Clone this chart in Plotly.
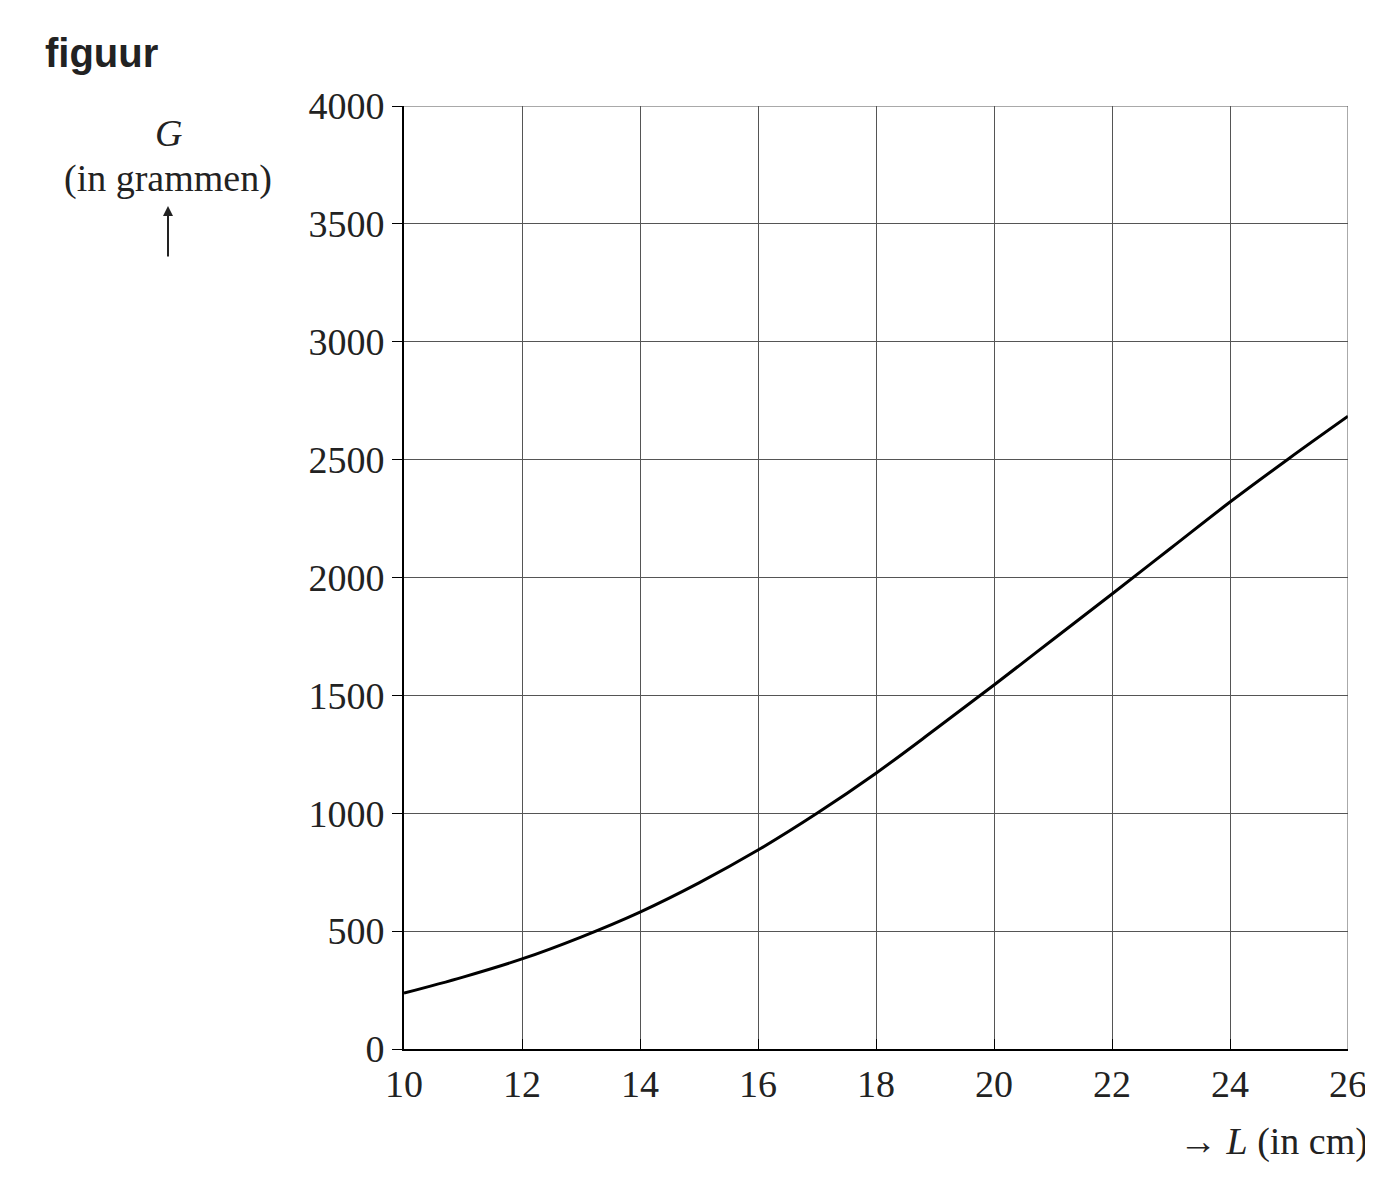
import plotly.graph_objects as go

L = [10, 11, 12, 13, 14, 15, 16, 17, 18, 19, 20, 21, 22, 23, 24, 25, 26]
G = [237, 305, 382, 475, 581, 705, 844, 1000, 1170, 1355, 1544, 1737, 1930, 2125, 2320, 2505, 2684]
xticks = [10, 12, 14, 16, 18, 20, 22, 24, 26]
yticks = [0, 500, 1000, 1500, 2000, 2500, 3000, 3500, 4000]

fig = go.Figure(go.Scatter(x=L, y=G, mode="lines", line=dict(color="black", width=3, shape="spline")))
font = dict(family="Liberation Serif", size=38, color="#222")
fig.update_layout(
    width=1373, height=1190, plot_bgcolor="white", paper_bgcolor="white",
    margin=dict(l=396, r=33, t=98, b=149), showlegend=False, font=font,
    xaxis=dict(range=[10, 26], tickvals=xticks, showgrid=True, gridcolor="#555", gridwidth=1,
               showline=True, linecolor="black", linewidth=2, ticks="inside", ticklen=10,
               tickcolor="black", tickfont=font, zeroline=False, mirror=False),
    yaxis=dict(range=[0, 4000], tickvals=yticks, showgrid=True, gridcolor="#555", gridwidth=1,
               showline=True, linecolor="black", linewidth=2, ticks="outside", ticklen=10,
               tickcolor="black", tickfont=font, zeroline=False),
    shapes=[dict(type="line", xref="x", yref="y", x0=26, x1=26, y0=0, y1=4000, line=dict(color="#555", width=1)),
            dict(type="line", xref="x", yref="y", x0=10, x1=26, y0=4000, y1=4000, line=dict(color="#555", width=1))],
)

def px(x, y):
    return (x - 396) / 944, 1 - (y - 98) / 943

for text, x, y, f, anchor in [
    ("<b>figuur</b>", 35, 45, dict(family="Liberation Sans", size=40, color="#222"), "left"),
    ("<i>G</i>", 160, 125, font, "center"),
    ("(in grammen)", 160, 170, font, "center"),
    ("→ <i>L</i> (in cm)", 1362, 1133, font, "right"),
]:
    ax_, ay_ = px(x, y)
    fig.add_annotation(text=text, x=ax_, y=ay_, xref="paper", yref="paper", showarrow=False,
                       font=f, xanchor=anchor, yanchor="middle")

hx, hy = px(160, 198)
fig.add_annotation(xref="paper", yref="paper", x=hx, y=hy, ax=0, ay=52,
                   showarrow=True, arrowhead=2, arrowwidth=2, arrowcolor="#222", text="")
fig.write_html("out.html")
